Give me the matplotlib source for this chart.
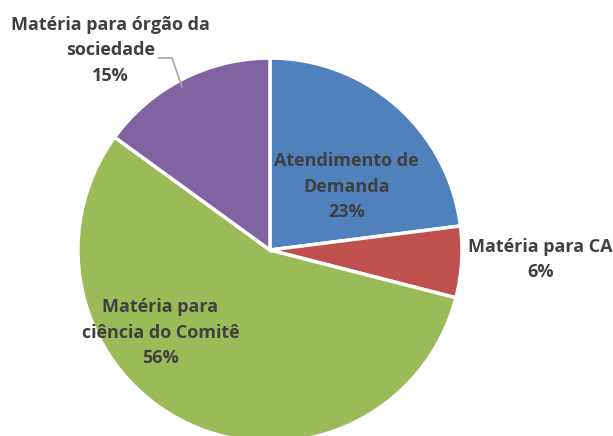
import matplotlib.pyplot as plt

labels = ["Atendimento de\nDemanda", "Matéria para CA", "Matéria para\nciência do Comitê", "Matéria para órgão da\nsociedade"]
shares = [23, 6, 56, 15]
colors = ["#4F81BD", "#C0504D", "#9BBB59", "#8064A2"]
# label centres, in pie-radius units
label_pos = [(0.40, 0.33), (1.41, -0.05), (-0.57, -0.43), (-0.83, 1.04)]

plt.rcParams['font.family'] = ['Open Sans', 'DejaVu Sans']

fig = plt.figure(figsize=(6.13, 4.36), dpi=100)
ax = fig.add_axes([0.1272, -0.0138, 0.6264, 0.8807])
ax.pie(shares, colors=colors, startangle=90, counterclock=False, radius=1,
       wedgeprops=dict(edgecolor="white", linewidth=2.5))
ax.set_xlim(-1, 1)
ax.set_ylim(-1, 1)
ax.set_aspect("equal")
ax.axis("off")

for lab, val, (x, y) in zip(labels, shares, label_pos):
    ax.text(x, y, f"{lab}\n{val}%", ha="center", va="center", fontsize=13,
            fontweight="bold", color="#404040", linespacing=1.55, clip_on=False)

# leader line for the small purple label
ax.plot([-0.578, -0.51, -0.458], [1.0, 1.0, 0.85], color="#A6A6A6", lw=1.2, clip_on=False)

fig.savefig("out.png", dpi=100)
